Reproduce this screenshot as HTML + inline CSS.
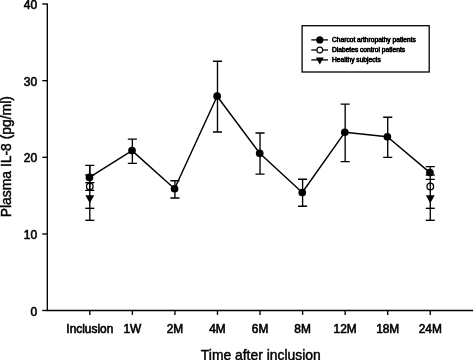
<!DOCTYPE html><html><head><meta charset="utf-8"><style>html,body{margin:0;padding:0;background:#fff}svg{display:block}text{font-family:"Liberation Sans",Arial,sans-serif;fill:#000;stroke:#000;stroke-width:0.6px}</style></head><body>
<svg width="473" height="360" viewBox="0 0 473 360">
<rect width="473" height="360" fill="#fff"/>
<g stroke="#000" stroke-width="1.35" fill="none">
<path d="M47.3 3.4V310.5H473"/>
<path d="M42.2 4H47.3"/>
<path d="M42.2 80.7H47.3"/>
<path d="M42.2 157.3H47.3"/>
<path d="M42.2 234H47.3"/>
<path d="M42.2 310.5H47.3"/>
<path d="M89.8 310.5V314.9"/>
<path d="M132.36 310.5V314.9"/>
<path d="M174.92 310.5V314.9"/>
<path d="M217.48 310.5V314.9"/>
<path d="M260.04 310.5V314.9"/>
<path d="M302.6 310.5V314.9"/>
<path d="M345.16 310.5V314.9"/>
<path d="M387.72 310.5V314.9"/>
<path d="M430.28 310.5V314.9"/>
<path d="M89.8 165.4V190.4M85.25 165.4H94.35M85.25 190.4H94.35"/>
<path d="M132.36 139.1V163.4M127.81000000000002 139.1H136.91000000000003M127.81000000000002 163.4H136.91000000000003"/>
<path d="M174.92 180.75V198M170.36999999999998 180.75H179.47M170.36999999999998 198H179.47"/>
<path d="M217.48 61.2V132M212.92999999999998 61.2H222.03M212.92999999999998 132H222.03"/>
<path d="M260.04 133V174.1M255.49 133H264.59000000000003M255.49 174.1H264.59000000000003"/>
<path d="M302.6 179.2V206.2M298.05 179.2H307.15000000000003M298.05 206.2H307.15000000000003"/>
<path d="M345.16 104.1V161.6M340.61 104.1H349.71000000000004M340.61 161.6H349.71000000000004"/>
<path d="M387.72 117.2V157.4M383.17 117.2H392.27000000000004M383.17 157.4H392.27000000000004"/>
<path d="M430.28 166.6V179.4M425.72999999999996 166.6H434.83M425.72999999999996 179.4H434.83"/>
<path d="M89.8 165.4V220.3"/>
<path d="M85.25 175H94.35"/>
<path d="M85.25 182.7H94.35"/>
<path d="M85.25 208.3H94.35"/>
<path d="M85.25 220.3H94.35"/>
<path d="M430.28 179V220.3"/>
<path d="M425.72999999999996 175H434.83"/>
<path d="M425.72999999999996 208.3H434.83"/>
<path d="M425.72999999999996 220.3H434.83"/>
<path stroke-width="1.45" stroke-linejoin="round" d="M89.45 177.4 L132.01 150.6 L174.57 188.75 L217.13 96.2 L259.69 153.3 L302.25 192.5 L344.81 132.3 L387.37 136.8 L429.93 172.6"/>
</g>
<circle cx="89.45" cy="177.4" r="3.85" fill="#000"/>
<circle cx="132.01" cy="150.6" r="3.85" fill="#000"/>
<circle cx="174.57" cy="188.75" r="3.85" fill="#000"/>
<circle cx="217.13" cy="96.2" r="3.85" fill="#000"/>
<circle cx="259.69" cy="153.3" r="3.85" fill="#000"/>
<circle cx="302.25" cy="192.5" r="3.85" fill="#000"/>
<circle cx="344.81" cy="132.3" r="3.85" fill="#000"/>
<circle cx="387.37" cy="136.8" r="3.85" fill="#000"/>
<circle cx="429.93" cy="172.6" r="3.85" fill="#000"/>
<circle cx="89.8" cy="186.5" r="3.3" fill="none" stroke="#000" stroke-width="1.3"/>
<path d="M85.39999999999999 195.2H94.2L89.8 203.2Z" fill="#000"/>
<circle cx="430.28" cy="186.5" r="3.3" fill="none" stroke="#000" stroke-width="1.3"/>
<path d="M425.88 195.2H434.67999999999995L430.28 203.2Z" fill="#000"/>
<rect x="302.1" y="25.7" width="127.1" height="46.3" fill="#fff" stroke="#000" stroke-width="1.3"/>
<path d="M311.3 39.9H328" stroke="#000" stroke-width="1.3"/>
<path d="M311.3 50H328" stroke="#000" stroke-width="1.3"/>
<path d="M311.3 59.9H328" stroke="#000" stroke-width="1.3"/>
<circle cx="319.8" cy="39.9" r="3.6" fill="#000"/>
<circle cx="319.8" cy="50" r="2.9" fill="#fff" stroke="#000" stroke-width="1.2"/>
<path d="M315.9 57.6H323.7L319.8 64.5Z" fill="#000"/>
<text x="332" y="42.3" font-size="6.65" style="stroke-width:0.6px">Charcot arthropathy patients</text>
<text x="332" y="52.2" font-size="6.65" style="stroke-width:0.6px">Diabetes control patients</text>
<text x="332" y="62.2" font-size="6.65" style="stroke-width:0.6px">Healthy subjects</text>
<text x="37.2" y="9.0" font-size="12" text-anchor="end">40</text>
<text x="37.2" y="85.7" font-size="12" text-anchor="end">30</text>
<text x="37.2" y="162.3" font-size="12" text-anchor="end">20</text>
<text x="37.2" y="239.0" font-size="12" text-anchor="end">10</text>
<text x="37.2" y="315.5" font-size="12" text-anchor="end">0</text>
<text x="89.8" y="332.7" font-size="11.9" text-anchor="middle">Inclusion</text>
<text x="132.36" y="332.7" font-size="11.9" text-anchor="middle">1W</text>
<text x="174.92" y="332.7" font-size="11.9" text-anchor="middle">2M</text>
<text x="217.48" y="332.7" font-size="11.9" text-anchor="middle">4M</text>
<text x="260.04" y="332.7" font-size="11.9" text-anchor="middle">6M</text>
<text x="302.6" y="332.7" font-size="11.9" text-anchor="middle">8M</text>
<text x="345.16" y="332.7" font-size="11.9" text-anchor="middle">12M</text>
<text x="387.72" y="332.7" font-size="11.9" text-anchor="middle">18M</text>
<text x="430.28" y="332.7" font-size="11.9" text-anchor="middle">24M</text>
<text x="260.8" y="359.6" font-size="13.9" style="stroke-width:0.45px" text-anchor="middle">Time after inclusion</text>
<text transform="translate(10.6 156.7) rotate(-90)" font-size="13.9" style="stroke-width:0.45px" text-anchor="middle">Plasma IL-8 (pg/ml)</text>
</svg></body></html>
